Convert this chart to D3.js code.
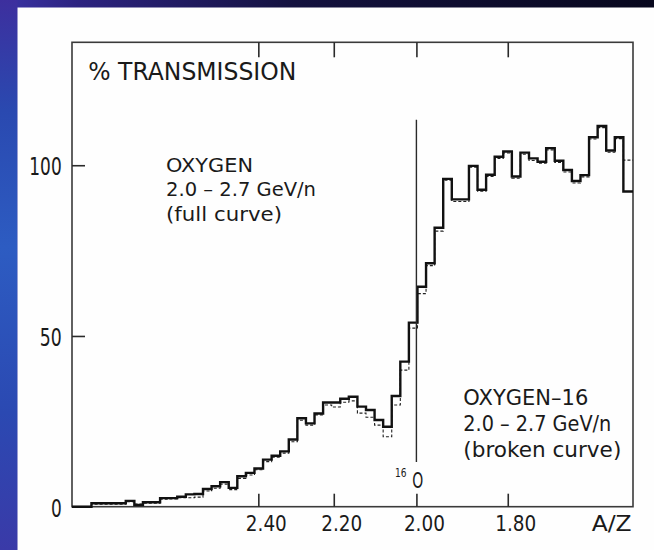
<!DOCTYPE html>
<html><head><meta charset="utf-8">
<script src="https://cdn.jsdelivr.net/npm/d3@7"></script>
<style>html,body{margin:0;padding:0;background:#fff;} svg{display:block}</style>
</head><body><svg id="c" width="654" height="550"></svg>
<script>
// ---- data ----
const xTicks = [2.40, 2.20, 2.00, 1.80];
const xTickLabels = ["2.40", "2.20", "2.00", "1.80"];
const yTicks = [0, 50, 100];
const yTickLabels = ["0", "50", "100"];
const xDomain = [2.9754, 1.5579];      // A/Z at left and right frame
const yDomain = [0, 136];
const binFirstAZ = 2.9675;             // upper A/Z edge of first bin
const binLogStep = 0.009895;           // bin width in ln(A/Z)
const fullCurve = [
  0, 0, 1.0, 1.0, 1.0, 1.0, 1.7, 0.5, 1.3, 1.3,
  2.5, 2.5, 2.9, 3.6, 3.7, 5.2, 6.0, 7.2, 5.5, 8.9,
  9.9, 11.2, 13.8, 14.9, 16.2, 19.7, 25.9, 24.4, 27.3, 30.5,
  30.5, 31.6, 32.2, 29.3, 28.3, 25.4, 23.4, 32.4, 42.5, 53.9,
  64.4, 71.3, 81.7, 96.0, 90.0, 90.0, 99.8, 92.8, 97.2, 102.5,
  104.0, 96.7, 103.7, 102.0, 101.0, 105.0, 101.3, 98.6, 95.4, 97.1,
  108.2, 111.5, 104.3, 108.2, 92.3
];
const brokenCurve = [
  0, 0, 0.7, 0.7, 0.7, 0.7, 1.5, 0.8, 1.0, 1.0,
  2.2, 2.3, 2.6, 2.6, 2.8, 4.6, 5.4, 6.6, 5.0, 8.3,
  9.3, 10.8, 13.2, 14.5, 15.7, 19.0, 25.3, 23.9, 26.9, 29.8,
  29.2, 30.6, 31.0, 27.4, 26.2, 23.9, 20.5, 29.8, 40.0, 52.3,
  62.4, 70.6, 80.7, 95.6, 89.4, 89.4, 99.4, 92.4, 96.7, 102.0,
  103.6, 96.2, 103.2, 101.4, 100.6, 104.5, 100.8, 98.0, 94.8, 96.6,
  107.7, 111.0, 103.8, 107.8, 101.5
];
const markerAZ = 2.00;
const markerRange = [13.1, 113.3];
const titleText = "% TRANSMISSION";
const fullLegend = ["OXYGEN", "2.0 \u2013 2.7 GeV/n", "(full curve)"];
const brokenLegend = ["OXYGEN\u201316", "2.0 \u2013 2.7 GeV/n", "(broken curve)"];
const xAxisName = "A/Z";

// ---- drawing ----
const svg = d3.select("#c");
const W = 654, H = 550;
const FONT = "'DejaVu Sans', 'Liberation Sans', sans-serif";
const INK = "#1a1a1a";

const defs = svg.append("defs");
const g1 = defs.append("linearGradient").attr("id", "bgH").attr("x1", 0).attr("x2", 1).attr("y1", 0).attr("y2", 0);
[["0%", "#3b34a6"], ["12%", "#2c2380"], ["45%", "#14123f"], ["100%", "#07071d"]]
  .forEach(([o, c]) => g1.append("stop").attr("offset", o).attr("stop-color", c));
const g2 = defs.append("linearGradient").attr("id", "bgV").attr("x1", 0).attr("x2", 0).attr("y1", 0).attr("y2", 1);
[["0%", "#3d2f9e"], ["20%", "#2a49b0"], ["45%", "#2d5cc2"], ["75%", "#2b49b2"], ["100%", "#3a3aa8"]]
  .forEach(([o, c]) => g2.append("stop").attr("offset", o).attr("stop-color", c));

svg.append("rect").attr("width", W).attr("height", H).attr("fill", "url(#bgH)");
svg.append("rect").attr("width", 17.5).attr("height", H).attr("fill", "url(#bgV)");
svg.append("rect").attr("x", 17.5).attr("y", 7.5).attr("width", W - 17.5).attr("height", H - 7.5).attr("fill", "#fefefe");

const x = d3.scaleLog().domain(xDomain).range([72, 633]);
const y = d3.scaleLinear().domain(yDomain).range([506.7, 42.3]);

// frame
svg.append("rect")
  .attr("x", x.range()[0]).attr("y", y.range()[1])
  .attr("width", x.range()[1] - x.range()[0]).attr("height", y.range()[0] - y.range()[1])
  .attr("fill", "none").attr("stroke", "#3a3a3a").attr("stroke-width", 1.6);

// axes ticks (inward)
const styleAxis = g => {
  g.select(".domain").remove();
  g.selectAll(".tick line").attr("stroke", "#2a2a2a").attr("stroke-width", 1.6);
  g.selectAll(".tick text").remove();
};
svg.append("g").attr("transform", `translate(${x.range()[0]},0)`)
  .call(d3.axisRight(y).tickValues(yTicks).tickSize(13).tickFormat(() => "")).call(styleAxis);
svg.append("g").attr("transform", `translate(0,${y.range()[0]})`)
  .call(d3.axisTop(x).tickValues(xTicks).tickSize(13).tickFormat(() => "")).call(styleAxis);
svg.append("g").attr("transform", `translate(0,${y.range()[1]})`)
  .call(d3.axisBottom(x).tickValues(xTicks).tickSize(15).tickFormat(() => "")).call(styleAxis);

// tick labels
const txt = (s, px, py, size, opts = {}) => {
  const t = svg.append("text").attr("x", px).attr("y", py).text(s)
    .attr("font-family", FONT).attr("font-size", size).attr("fill", INK)
    .attr("text-anchor", opts.anchor || "start");
  if (opts.len) t.attr("textLength", opts.len).attr("lengthAdjust", "spacingAndGlyphs");
  return t;
};
const yLabLen = { "0": 10.8, "50": 22, "100": 32.4 };
yTicks.forEach((v, i) => txt(yTickLabels[i], 61.7, y(v) + 9.8, 24, { anchor: "end", len: yLabLen[yTickLabels[i]] }));
xTicks.forEach((v, i) => txt(xTickLabels[i], x(v) + 8, 531, 21, { anchor: "middle", len: 41 }));
txt(xAxisName, 631.7, 531, 21, { anchor: "end", len: 40 });

// histogram bins
const edges = d3.range(fullCurve.length + 1).map(i => binFirstAZ * Math.exp(-i * binLogStep));
edges[edges.length - 1] = xDomain[1];
const stepPts = vals => {
  const pts = [[xDomain[0], 0]];
  vals.forEach((v, i) => { pts.push([edges[i], v]); pts.push([edges[i + 1], v]); });
  return pts;
};
const line = d3.line().x(d => x(d[0])).y(d => y(d[1]));

svg.append("path").attr("d", line(stepPts(brokenCurve)))
  .attr("fill", "none").attr("stroke", "#222").attr("stroke-width", 1.1)
  .attr("stroke-dasharray", "3,2");
svg.append("path").attr("d", line(stepPts(fullCurve)))
  .attr("fill", "none").attr("stroke", "#111").attr("stroke-width", 2.4)
  .attr("stroke-linejoin", "miter");

// 16O marker line
svg.append("line")
  .attr("x1", x(markerAZ)).attr("x2", x(markerAZ))
  .attr("y1", y(markerRange[0])).attr("y2", y(markerRange[1]))
  .attr("stroke", "#2a2a2a").attr("stroke-width", 1.4);
txt("16", 395, 476.7, 13, { len: 11.5 });
txt("O", 412.3, 488.3, 21, { len: 11 });

// title & legends
txt(titleText, 88.3, 80, 24, { len: 208 });
const legLens1 = [87, 150, 116];
fullLegend.forEach((s, i) => txt(s, 166, 171.7 + i * 24.5, 20, { len: legLens1[i] }));
const legLens2 = [125, 148, 158];
brokenLegend.forEach((s, i) => txt(s, 463.3, 405 + i * 26, 21, { len: legLens2[i] }));
</script>
</body></html>
